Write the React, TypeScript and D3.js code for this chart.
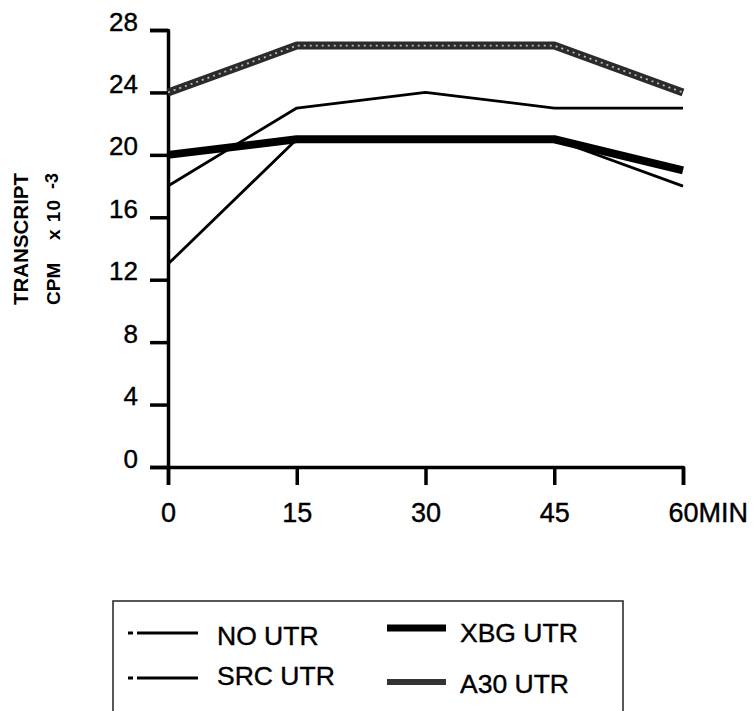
import { useEffect, useRef } from "react";
import * as d3 from "d3";

// Time points (minutes) and transcript CPM x 10^-3 for each construct.
const minutes = [0, 15, 30, 45, 60];
const noUtr = [18, 23, 24, 23, 23];
const srcUtr = [13, 21, 21, 21, 18];
const xbgUtr = [20, 21, 21, 21, 19];
const a30Utr = [24, 27, 27, 27, 24];
const yTicks = [0, 4, 8, 12, 16, 20, 24, 28];
const xTickLabels = ["0", "15", "30", "45", "60"];

const FONT = "'Liberation Sans', Arial, Helvetica, sans-serif";

export default function App() {
  const ref = useRef<SVGSVGElement>(null);

  useEffect(() => {
    if (!ref.current) return;
    const svg = d3.select(ref.current);
    svg.selectAll("*").remove();

    const x = d3.scaleLinear().domain([0, 60]).range([168, 683]);
    const y = d3.scaleLinear().domain([0, 28]).range([467, 30]);

    const line = d3
      .line<number>()
      .x((_, i) => x(minutes[i]))
      .y((d) => y(d));

    // Axes
    const yAxis = svg
      .append("g")
      .attr("transform", `translate(${x(0)},0)`)
      .call(d3.axisLeft(y).tickValues(yTicks).tickSize(18).tickPadding(12));
    const xAxis = svg
      .append("g")
      .attr("transform", `translate(0,${y(0)})`)
      .call(
        d3
          .axisBottom(x)
          .tickValues(minutes)
          .tickSize(18)
          .tickPadding(18)
          .tickFormat((_, i) => xTickLabels[i])
      );

    [yAxis, xAxis].forEach((g) => {
      g.attr("font-family", FONT).attr("font-size", 27);
      g.selectAll("path, line")
        .attr("stroke", "#000")
        .attr("stroke-width", 3.5)
        .attr("stroke-linejoin", "round");
      g.selectAll("text")
        .attr("fill", "#000")
        .attr("stroke", "#000")
        .attr("stroke-width", 0.4);
    });
    yAxis.selectAll("text").attr("dy", "0em").attr("font-size", 26);
    // "60MIN": keep the number centred on its tick and append the unit
    xAxis
      .selectAll<SVGTextElement, number>("text")
      .filter((d) => d === 60)
      .attr("text-anchor", "start")
      .attr("dx", "-0.556em")
      .text("60MIN");

    // Data lines
    const g = svg.append("g").attr("fill", "none").attr("stroke-linejoin", "round");
    g.append("path").attr("d", line(noUtr)).attr("stroke", "#000").attr("stroke-width", 2.8);
    g.append("path").attr("d", line(srcUtr)).attr("stroke", "#000").attr("stroke-width", 2.8);
    g.append("path").attr("d", line(xbgUtr)).attr("stroke", "#000").attr("stroke-width", 8);
    g.append("path").attr("d", line(a30Utr)).attr("stroke", "#2b2b2b").attr("stroke-width", 8);
    g.append("path")
      .attr("d", line(a30Utr))
      .attr("stroke", "#b8b8b8")
      .attr("stroke-width", 1.8)
      .attr("stroke-dasharray", "2 4");

    // Y axis title
    const titles = svg
      .append("g")
      .attr("font-family", FONT)
      .attr("font-weight", "bold")
      .attr("fill", "#000");
    titles
      .append("text")
      .attr("transform", "translate(28,305) rotate(-90)")
      .attr("font-size", 20)
      .attr("textLength", 132)
      .attr("lengthAdjust", "spacingAndGlyphs")
      .text("TRANSCRIPT");
    titles
      .append("text")
      .attr("transform", "translate(60,305) rotate(-90)")
      .attr("font-size", 19)
      .text("CPM");
    titles
      .append("text")
      .attr("transform", "translate(60,240) rotate(-90)")
      .attr("font-size", 19)
      .attr("textLength", 40)
      .attr("lengthAdjust", "spacing")
      .text("x 10");
    titles
      .append("text")
      .attr("transform", "translate(58,189) rotate(-90)")
      .attr("font-size", 18)
      .text("-3");

    // Legend
    const leg = svg.append("g");
    leg
      .append("path")
      .attr("d", "M113,720 V601 H623 V720")
      .attr("fill", "none")
      .attr("stroke", "#222")
      .attr("stroke-width", 1.5);

    const items = [
      { label: "NO UTR", x: 128, y: 633, ty: 645, w: 3, dash: "5 4 200", stroke: "#000" },
      { label: "SRC UTR", x: 128, y: 678, ty: 685, w: 3, dash: "5 4 200", stroke: "#000" },
      { label: "XBG UTR", x: 387, y: 628, ty: 642, w: 7, dash: null, stroke: "#000" },
      { label: "A30 UTR", x: 387, y: 682, ty: 693, w: 6, dash: null, stroke: "#333" },
    ];
    items.forEach((it) => {
      const x0 = it.x;
      const x1 = it.x + (it.dash ? 70 : 59);
      leg
        .append("line")
        .attr("x1", x0)
        .attr("x2", x1)
        .attr("y1", it.y)
        .attr("y2", it.y)
        .attr("stroke", it.stroke)
        .attr("stroke-width", it.w)
        .attr("stroke-dasharray", it.dash);
      leg
        .append("text")
        .attr("x", it.dash ? 217 : 460)
        .attr("y", it.ty)
        .attr("font-family", FONT)
        .attr("font-size", 26.5)
        .attr("fill", "#000")
        .attr("stroke", "#000")
        .attr("stroke-width", 0.4)
        .text(it.label);
    });
  }, []);

  return (
    <svg
      ref={ref}
      width={753}
      height={711}
      style={{ position: "absolute", left: 0, top: 0, background: "#fff" }}
    />
  );
}
